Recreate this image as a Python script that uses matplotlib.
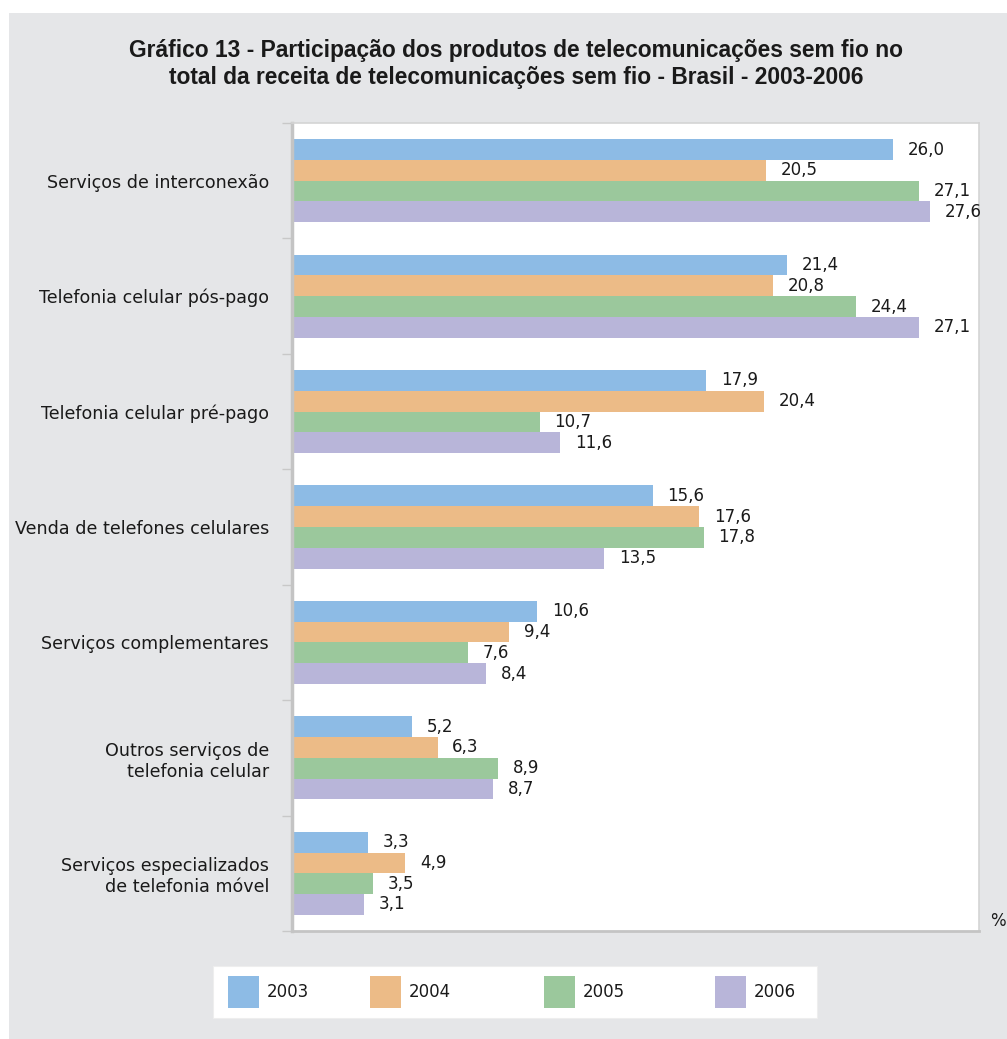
import matplotlib
matplotlib.use("Agg")
import matplotlib.pyplot as plt
from matplotlib.patches import Rectangle, Patch
import numpy as np

categories = ["Serviços de interconexão", "Telefonia celular pós-pago", "Telefonia celular pré-pago",
              "Venda de telefones celulares", "Serviços complementares",
              "Outros serviços de\ntelefonia celular", "Serviços especializados\nde telefonia móvel"]
years = ["2003", "2004", "2005", "2006"]
v2003 = [26.0, 21.4, 17.9, 15.6, 10.6, 5.2, 3.3]
v2004 = [20.5, 20.8, 20.4, 17.6, 9.4, 6.3, 4.9]
v2005 = [27.1, 24.4, 10.7, 17.8, 7.6, 8.9, 3.5]
v2006 = [27.6, 27.1, 11.6, 13.5, 8.4, 8.7, 3.1]
series = [v2003, v2004, v2005, v2006]
colors = ["#8dbbe5", "#ecbb87", "#9bc89c", "#b8b5d9"]

W, H = 1007, 1039
fig = plt.figure(figsize=(W/100, H/100), dpi=100)
fig.patch.set_facecolor("white")
fig.patches.append(Rectangle((9/W, 0), 1 - 9/W, 1 - 13/H, transform=fig.transFigure,
                             facecolor="#e5e6e8", edgecolor="none", zorder=-10))

font = ["DejaVu Sans"]
tfont = ["Liberation Sans Narrow", "Liberation Sans", "DejaVu Sans"]
fs_cat = 12.6
fs_val = 12.0
tc = "#1a1a1a"

ax = fig.add_axes([292/W, 1 - 931/H, (979-292)/W, (931-123)/H])
ax.set_facecolor("white")

bh = 0.18
y = np.arange(len(categories))
for k, (vals, c, yr) in enumerate(zip(series, colors, years)):
    pos = y + (k - 1.5) * bh
    ax.barh(pos, vals, height=bh, color=c, label=yr, zorder=2)
    for p, v in zip(pos, vals):
        ax.annotate(f"{v:.1f}".replace(".", ","), (v, p), xytext=(10.5, 0), textcoords="offset points",
                    ha="left", va="center", fontsize=fs_val, family=font, color=tc)

ax.set_xlim(0, 29.7)
ax.set_ylim(len(categories) - 0.5, -0.5)
ax.set_xticks([])
ax.set_yticks(y)
ax.set_yticklabels(categories, fontsize=fs_cat, family=font, color=tc, linespacing=1.2)
ax.tick_params(axis="y", which="major", length=0, pad=16.5)
ax.set_yticks(np.arange(-0.5, len(categories)), minor=True)
ax.tick_params(axis="y", which="minor", length=7, color="#c8c8c8", width=1)

for s in ["top", "right"]:
    ax.spines[s].set_color("#d4d4d4")
    ax.spines[s].set_linewidth(1.2)
ax.spines["left"].set_color("#c4c4c4")
ax.spines["left"].set_linewidth(2.5)
ax.spines["bottom"].set_color("#c4c4c4")
ax.spines["bottom"].set_linewidth(2)

tfs = 16.4
tx = 516 / W
fig.text(tx, 1 - 50/H, "Gráfico 13 - Participação dos produtos de telecomunicações sem fio no",
         ha="center", va="center", fontsize=tfs, fontweight="bold", family=tfont, color=tc)
fig.text(tx, 1 - 77/H, "total da receita de telecomunicações sem fio - Brasil - 2003-2006",
         ha="center", va="center", fontsize=tfs, fontweight="bold", family=tfont, color=tc)

fig.text(1006/W, 1 - 921/H, "%", ha="right", va="center", fontsize=fs_val, family=font, color=tc)

# legend box
fig.patches.append(Rectangle((213/W, 1 - 1018/H), (817-213)/W, 52/H, transform=fig.transFigure,
                             facecolor="white", edgecolor="#eeeeee", linewidth=0.8, zorder=1))
leg_x = [228, 370, 544, 715]
for c, yr, lx in zip(colors, years, leg_x):
    lg = fig.legend([Patch(facecolor=c, edgecolor="none")], [yr], loc="center left",
                    bbox_to_anchor=(lx/W, 1 - 992/H), frameon=False, borderpad=0, borderaxespad=0,
                    handlelength=1.85, handleheight=2.55, handletextpad=0.45,
                    prop={"family": font, "size": fs_val})
    for t in lg.get_texts():
        t.set_color(tc)
    lg.set_zorder(3)

fig.savefig("out.png", dpi=100)
